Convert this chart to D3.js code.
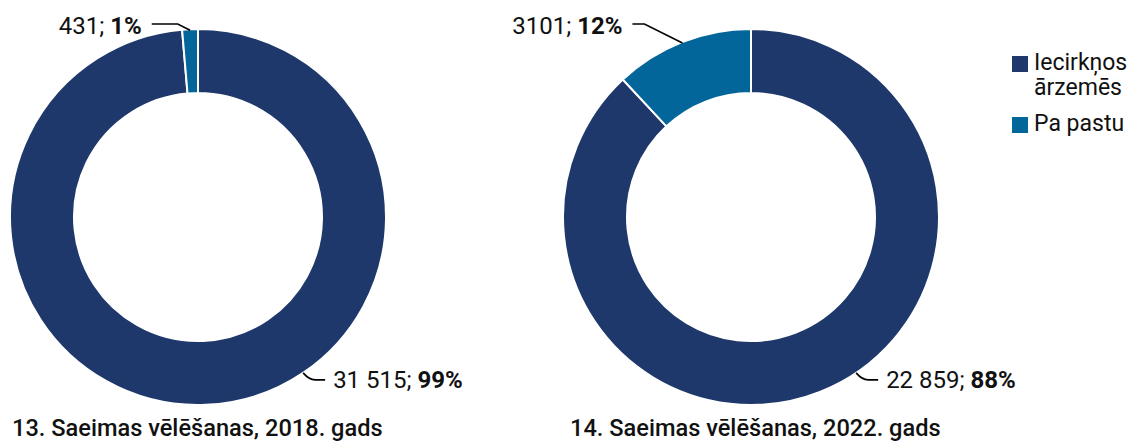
<!DOCTYPE html>
<html><head><meta charset="utf-8">
<script src="https://cdn.jsdelivr.net/npm/d3@7"></script>
<style>body{margin:0;background:#fff}svg{display:block}text{font-family:Roboto,sans-serif}</style>
</head><body><svg id="c" width="1131" height="443"></svg>
<script>
const categories = ["Iecirkņos ārzemēs", "Pa pastu"];
const titles = ["13. Saeimas vēlēšanas, 2018. gads", "14. Saeimas vēlēšanas, 2022. gads"];
const values2018 = [31515, 431];
const values2022 = [22859, 3101];
const colors = ["#1f386b", "#03669a"];

const svg = d3.select("#c");
const R = 188, r0 = 124, cy = 217;
const charts = [
  {values: values2018, title: titles[0], cx: 198, tx: 12, hseg: 26},
  {values: values2022, title: titles[1], cx: 751, tx: 570, hseg: 12}
];
const pie = d3.pie().sort(null).value(d => d);
const arc = d3.arc().innerRadius(r0).outerRadius(R);
function fmtNum(v){ return v >= 10000 ? d3.format(",")(v).replace(/,/g, " ") : String(v); }

charts.forEach(c => {
  const total = d3.sum(c.values);
  const g = svg.append("g").attr("transform", `translate(${c.cx},${cy})`);
  const arcs = pie(c.values);
  g.selectAll("path.s").data(arcs).join("path").attr("class","s")
    .attr("d", arc).attr("fill", (d,i) => colors[i])
    .attr("stroke", "#fff").attr("stroke-width", 2);

  const a1 = 146 * Math.PI / 180;
  const p1 = [R * Math.sin(a1), -R * Math.cos(a1)];
  const pct = v => Math.round(v / total * 100) + "%";
  g.append("path").attr("fill","none").attr("stroke","#000").attr("stroke-width",1.6)
    .attr("d", `M${p1[0]},${p1[1]} Q${p1[0]+6},${p1[1]+7} ${p1[0]+12},${p1[1]+7} L${p1[0]+22},${p1[1]+7}`);
  const t1 = g.append("text").attr("x", p1[0]+30).attr("y", p1[1]+7).attr("dy","0.35em")
    .attr("font-size", 24).attr("fill","#111");
  t1.append("tspan").text(fmtNum(c.values[0]) + "; ");
  t1.append("tspan").attr("font-weight", 700).text(pct(c.values[0]));

  const s = arcs[1];
  const am = (s.startAngle + s.endAngle) / 2;
  const p2 = [(R-1) * Math.sin(am), -(R-1) * Math.cos(am)];
  const ly = 24 - cy;
  const ex = p2[0] - 2 * (p2[1] - ly);
  const lx = ex - c.hseg;
  g.append("path").attr("fill","none").attr("stroke","#000").attr("stroke-width",1.6)
    .attr("d", `M${p2[0]},${p2[1]} L${ex},${ly} L${lx},${ly}`);
  const t2 = g.append("text").attr("x", lx - 10).attr("y", ly + 2).attr("dy","0.35em")
    .attr("text-anchor","end").attr("font-size", 24).attr("fill","#111");
  t2.append("tspan").text(fmtNum(c.values[1]) + "; ");
  t2.append("tspan").attr("font-weight", 700).text(pct(c.values[1]));

  svg.append("text").attr("x", c.tx).attr("y", 436).attr("font-size", 23.6)
    .attr("font-weight", 500).attr("fill","#111").text(c.title);
});

const lg = svg.append("g");
const legendItems = [
  {lines: ["Iecirkņos", "ārzemēs"], y: 56},
  {lines: ["Pa pastu"], y: 117}
];
legendItems.forEach((it, i) => {
  lg.append("rect").attr("x", 1012).attr("y", it.y).attr("width", 16).attr("height", 16).attr("fill", colors[i]);
  it.lines.forEach((ln, j) => {
    lg.append("text").attr("x", 1034).attr("y", it.y + 14 + j * 25).attr("font-size", 23).attr("fill","#111").text(ln);
  });
});
</script></body></html>
